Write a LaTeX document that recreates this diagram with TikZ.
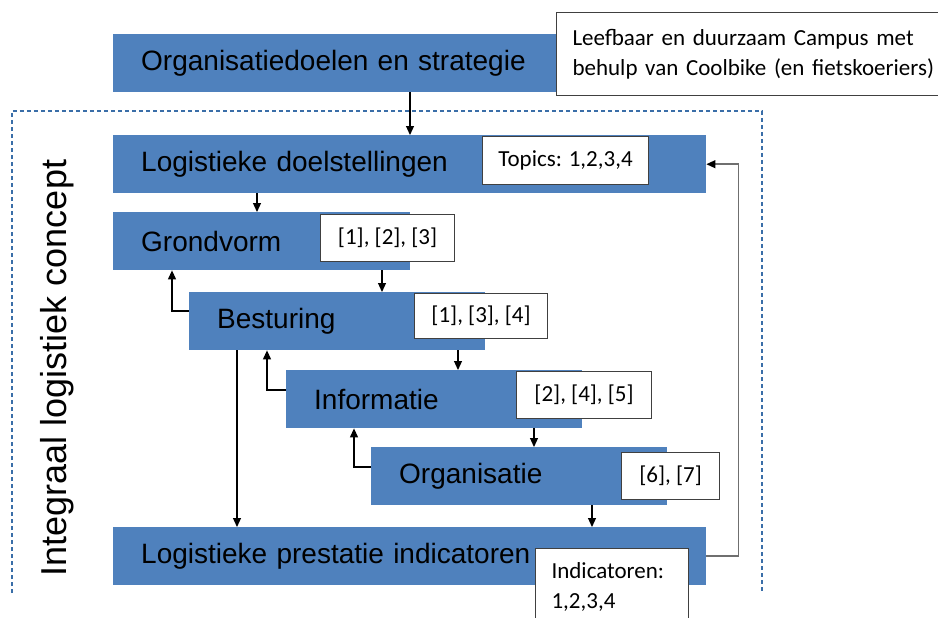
\documentclass[tikz,border=0pt]{standalone}
\usepackage{fontspec}
\setmainfont{Liberation Sans}
\newfontfamily\notefont{Carlito}
\usetikzlibrary{arrows.meta}
\definecolor{blokblauw}{HTML}{4F81BD}
\definecolor{kaderblauw}{HTML}{3A6EA8}
\definecolor{terugkoppel}{HTML}{6F6F6F}
\tikzset{
  blok/.style={fill=blokblauw, anchor=north west, inner xsep=28pt, inner ysep=0pt,
    minimum height=58pt, align=left, font=\fontsize{28}{32}\selectfont},
  notitie/.style={draw=black!75, fill=white, line width=1.1pt, anchor=north west,
    inner sep=0pt, font=\notefont\fontsize{23}{30}\selectfont},
  pijl/.style={-{Triangle[length=9pt,width=8pt]}, line width=1.2pt}
}
\begin{document}
\begin{tikzpicture}[x=1pt,y=-1pt]
  \clip (0,0) rectangle (938,618);
  % kader integraal logistiek concept (onderkant open)
  \draw[kaderblauw, line width=1.2pt, dash pattern=on 4pt off 3pt] (12,593) -- (12,111) -- (762,111) -- (762,593);
  \node[rotate=90, anchor=base, font=\fontsize{36}{40}\selectfont] (concept) at (66,368) {Integraal logistiek concept};
  % blokken
  \node[blok, text width=411pt] (strat) at (113,34) {Organisatiedoelen en strategie};
  \node[blok, text width=537pt] (doel) at (113,135) {Logistieke doelstellingen};
  \node[blok, text width=241pt] (grond) at (113,212) {Grondvorm};
  \node[blok, text width=240pt] (best) at (189,292) {Besturing};
  \node[blok, text width=240pt] (info) at (286,370) {Informatie};
  \node[blok, text width=240pt] (orga) at (371,447) {Organisatie};
  \node[blok, text width=537pt] (prest) at (113,527) {Logistieke prestatie indicatoren};
  % notities
  \node[notitie, minimum height=83pt, inner xsep=16pt, text width=380pt, align=left] (campus) at (556,12)
    {Leefbaar en duurzaam Campus met\\behulp van Coolbike (en fietskoeriers)};
  \node[notitie, minimum width=166pt, minimum height=48pt] (topics) at (482,136) {Topics: 1,2,3,4};
  \node[notitie, minimum width=134pt, minimum height=47pt] (refgrond) at (320,214) {[1], [2], [3]};
  \node[notitie, minimum width=133pt, minimum height=45pt] (refbest) at (414,293) {[1], [3], [4]};
  \node[notitie, minimum width=135pt, minimum height=47pt] (refinfo) at (516,371) {[2], [4], [5]};
  \node[notitie, minimum width=98pt, minimum height=47pt] (reforga) at (621,452) {[6], [7]};
  \node[notitie, inner xsep=16pt, inner ysep=14pt, text width=121pt, align=left, text depth=40pt] (indic) at (535,548)
    {Indicatoren:\\1,2,3,4};
  % pijlen omlaag
  \draw[pijl] ([xshift=297pt]strat.south west) -- ([xshift=297pt]doel.north west);
  \draw[pijl] ([xshift=144pt]doel.south west) -- ([xshift=144pt]grond.north west);
  \draw[pijl] ([xshift=269pt]grond.south west) -- ([xshift=193pt]best.north west);
  \draw[pijl] ([xshift=269pt]best.south west) -- ([xshift=172pt]info.north west);
  \draw[pijl] ([xshift=248pt]info.south west) -- ([xshift=163pt]orga.north west);
  \draw[pijl] ([xshift=221pt]orga.south west) -- ([xshift=479pt]prest.north west);
  \draw[pijl] ([xshift=48pt]best.south west) -- ([xshift=124pt]prest.north west);
  % terugkoppelingen
  \draw[pijl] ([yshift=-19pt]best.north west) -| ([xshift=59pt]grond.south west);
  \draw[pijl] ([yshift=-20pt]info.north west) -| ([xshift=78pt]best.south west);
  \draw[pijl] ([yshift=-20pt]orga.north west) -| ([xshift=68pt]info.south west);
  \draw[terugkoppel, line width=1.6pt] (prest.east) -- ++(32,0) |- ([xshift=8pt]doel.east) coordinate (terugeind);
  \draw[pijl] (terugeind) -- (doel.east);
\end{tikzpicture}
\end{document}
